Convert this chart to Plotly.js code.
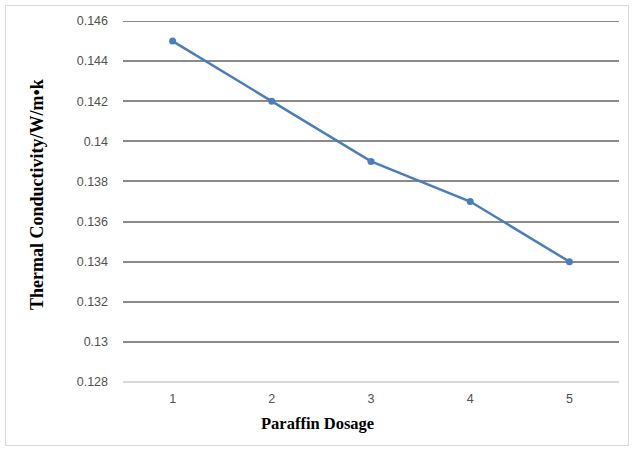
<!DOCTYPE html>
<html>
<head>
<meta charset="utf-8">
<script src="https://cdn.plot.ly/plotly-3.0.1.min.js"></script>
<style>
html,body{margin:0;padding:0;background:#fff;}
#wrap{position:relative;width:633px;height:450px;}
#chart{width:633px;height:450px;}
#frame{position:absolute;left:5px;top:5px;width:622px;height:439px;border:1px solid #d9d9d9;pointer-events:none;}
</style>
</head>
<body>
<div id="wrap"><div id="chart"></div><div id="frame"></div></div>
<script>
const categories = [1, 2, 3, 4, 5];
const conductivity = [0.145, 0.142, 0.139, 0.137, 0.134];
const yTicks = [0.128, 0.13, 0.132, 0.134, 0.136, 0.138, 0.14, 0.142, 0.144, 0.146];
const yTickText = ["0.128", "0.13", "0.132", "0.134", "0.136", "0.138", "0.14", "0.142", "0.144", "0.146"];
const xTitle = 'Paraffin Dosage';
const yTitle = 'Thermal Conductivity/W/m•k';

const trace = {
  x: categories,
  y: conductivity,
  type: 'scatter',
  mode: 'lines+markers',
  line: {color: '#4a7ebb', width: 2.5},
  marker: {color: '#4a7ebb', size: 7},
  hoverinfo: 'skip'
};

const tickFont = {family: 'Liberation Sans, Arial, sans-serif', size: 12.5, color: '#505050'};
const titleFont = {family: 'Liberation Serif, Times New Roman, serif', color: '#000000', weight: 'bold'};
const gridColor = '#8a8a8a';

const layout = {
  width: 633, height: 450,
  margin: {l: 123, r: 14, t: 21, b: 68},
  paper_bgcolor: '#ffffff',
  plot_bgcolor: '#ffffff',
  showlegend: false,
  xaxis: {
    range: [0.5, 5.5],
    tickvals: categories,
    ticktext: categories.map(String),
    showgrid: false,
    zeroline: false,
    showline: true,
    linecolor: '#d9d9d9',
    linewidth: 1,
    ticks: '',
    ticklabelstandoff: 5,
    tickfont: tickFont
  },
  yaxis: {
    range: [0.128, 0.146],
    tickvals: yTicks,
    ticktext: yTickText,
    showgrid: true,
    gridcolor: gridColor,
    gridwidth: 2,
    zeroline: false,
    showline: false,
    ticks: '',
    ticklabelstandoff: 14,
    tickfont: tickFont
  },
  annotations: [
    {text: xTitle, xref: 'paper', yref: 'paper', x: (317 - 123) / 496, y: -(423 - 382) / 361,
     xanchor: 'center', yanchor: 'middle', showarrow: false, font: Object.assign({size: 16.5}, titleFont)},
    {text: yTitle, xref: 'paper', yref: 'paper', x: (37 - 123) / 496, y: (382 - 195) / 361,
     xanchor: 'center', yanchor: 'middle', textangle: -90, showarrow: false, font: Object.assign({size: 18}, titleFont)}
  ],
  shapes: [
    {type: 'line', xref: 'paper', yref: 'y', x0: 0, x1: 1, y0: yTicks[0], y1: yTicks[0],
     line: {color: '#d9d9d9', width: 2}},
    {type: 'line', xref: 'paper', yref: 'y', x0: 0, x1: 1, y0: yTicks[yTicks.length - 1], y1: yTicks[yTicks.length - 1],
     layer: 'below', line: {color: gridColor, width: 2}}
  ]
};

Plotly.newPlot('chart', [trace], layout, {staticPlot: true, displayModeBar: false});
</script>
</body>
</html>
